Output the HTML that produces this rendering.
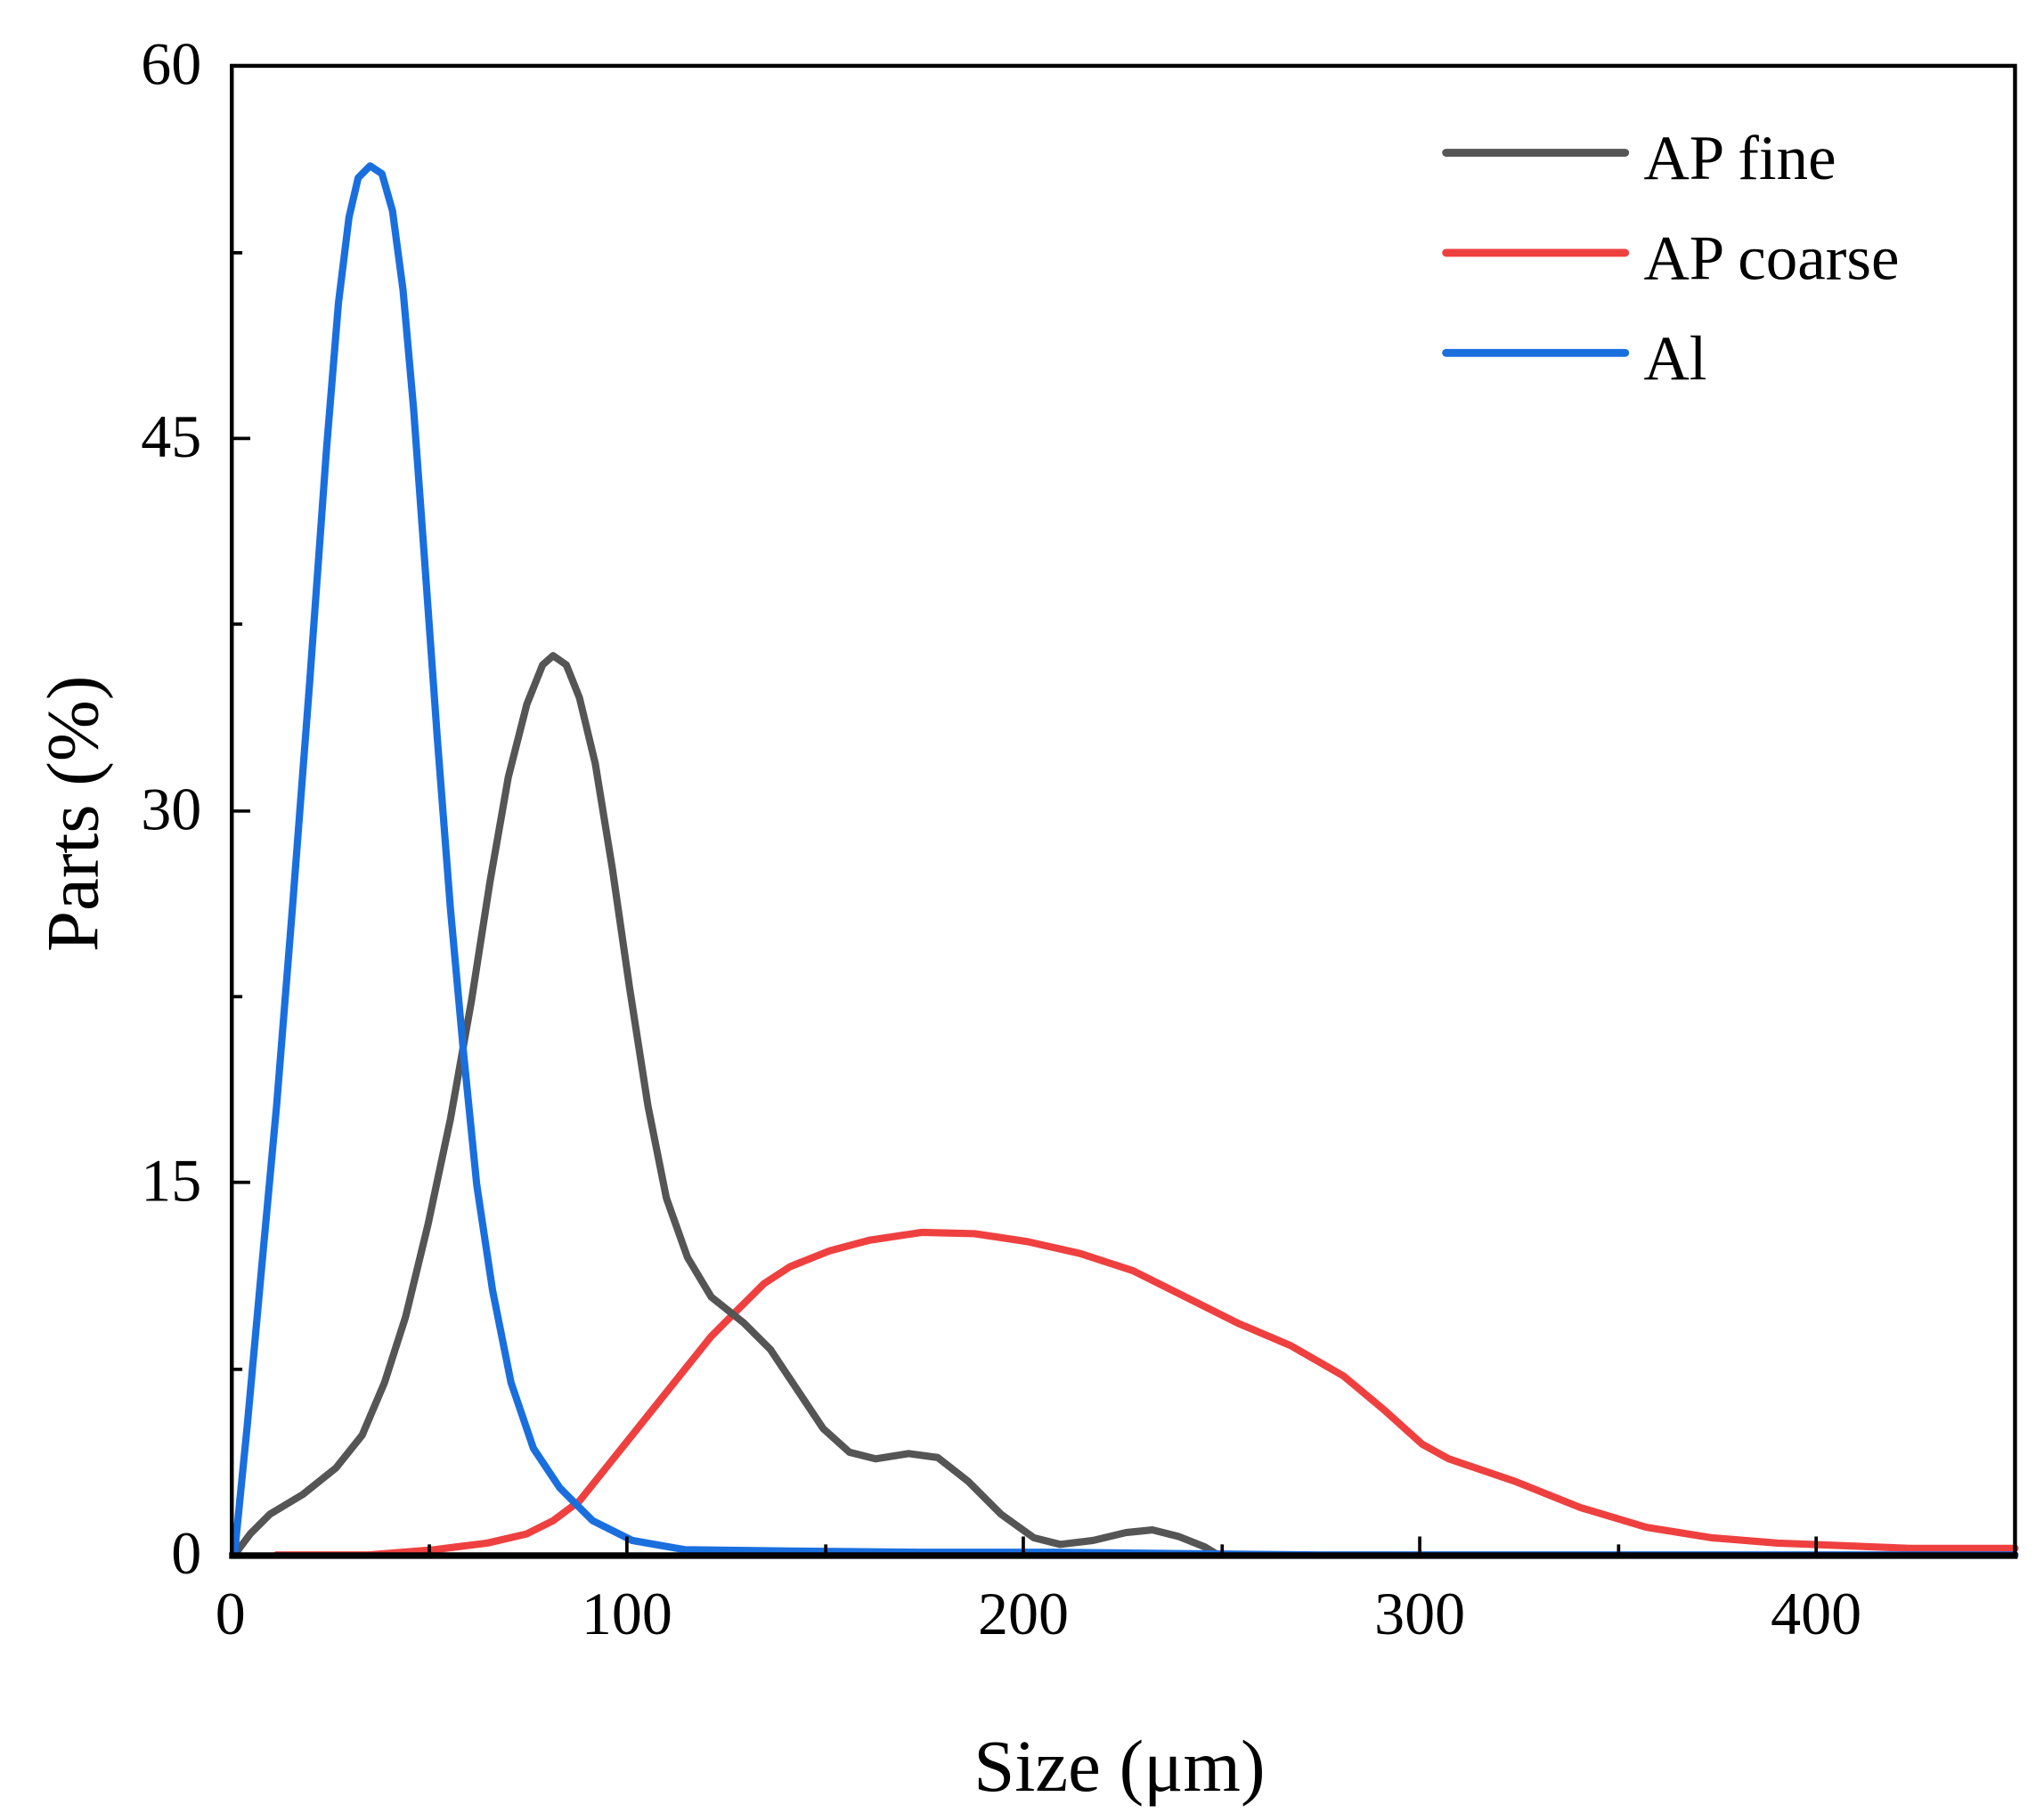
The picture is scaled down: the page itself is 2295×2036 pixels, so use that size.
<!DOCTYPE html>
<html><head><meta charset="utf-8"><style>html,body{margin:0;padding:0;background:#fff}svg{display:block}</style></head>
<body>
<svg width="2295" height="2036" viewBox="0 0 1552 1377" preserveAspectRatio="none" xmlns="http://www.w3.org/2000/svg" font-family="'Liberation Serif', serif">
<rect width="1552" height="1377" fill="#fff"/>
<g fill="none" stroke-linejoin="round" stroke-linecap="round" stroke-width="5.5">
<polyline stroke="#ef4040" points="210,1181 280,1181 330,1177 370,1172 400,1165 420,1155 440,1140 460,1115 480,1090 500,1065 520,1040 540,1015 560,995 580,975 600,962 630,950 660,942 700,936 740,937 780,943 820,952 860,965 900,985 940,1005 980,1022 1020,1045 1050,1070 1080,1097 1100,1108 1150,1125 1200,1145 1250,1160 1300,1168 1350,1172 1400,1174 1450,1176 1530,1176"/>
<polyline stroke="#555555" points="178,1181 190,1165 205,1150 230,1135 255,1115 275,1090 292,1050 308,1000 325,930 342,850 358,760 372,670 386,590 400,535 412,505 420,498 430,505 440,530 452,580 465,660 478,750 492,840 506,910 522,955 540,985 565,1005 585,1025 605,1055 625,1085 645,1103 665,1108 690,1104 712,1107 735,1125 760,1150 785,1168 805,1173 830,1170 855,1164 875,1162 895,1167 915,1175 925,1181"/>
<polyline stroke="#1a6fdf" points="178,1181 188,1080 198,970 210,840 222,690 235,520 248,340 257,230 265,165 272,135 281,126 290,132 298,160 306,220 314,310 322,420 332,560 342,690 352,800 362,900 374,980 388,1050 405,1100 425,1130 450,1155 480,1170 520,1177 600,1178 700,1179 800,1179 1000,1181 1530,1181"/>
</g>
<g stroke="#000" fill="none">
<rect x="176" y="50" width="1354" height="1131" stroke-width="3"/>
<line x1="174" y1="1181.5" x2="1532" y2="1181.5" stroke-width="5"/>
<g stroke-width="2.5">
<path d="M476,1181v-14M777,1181v-14M1078,1181v-14M1379,1181v-14M326,1181v-8M627,1181v-8M928,1181v-8M1229,1181v-8"/>
<path d="M176,898h14M176,616h14M176,333h14M176,1040h8M176,757h8M176,474h8M176,192h8"/>
</g>
</g>
<g font-size="46" fill="#000" text-anchor="end">
<text x="153" y="64">60</text>
<text x="153" y="347">45</text>
<text x="153" y="630">30</text>
<text x="153" y="912">15</text>
<text x="153" y="1195">0</text>
</g>
<g font-size="46" fill="#000" text-anchor="middle">
<text x="175" y="1241">0</text>
<text x="476" y="1241">100</text>
<text x="777" y="1241">200</text>
<text x="1078" y="1241">300</text>
<text x="1379" y="1241">400</text>
</g>
<text x="850" y="1360" font-size="56" text-anchor="middle">Size (μm)</text>
<text transform="translate(74,618) rotate(-90)" font-size="56" text-anchor="middle">Parts (%)</text>
<g stroke-width="6" stroke-linecap="round">
<line x1="1098" y1="116" x2="1234" y2="116" stroke="#555555"/>
<line x1="1098" y1="192" x2="1234" y2="192" stroke="#ef4040"/>
<line x1="1098" y1="268" x2="1234" y2="268" stroke="#1a6fdf"/>
</g>
<g font-size="48" fill="#000">
<text x="1248" y="136">AP fine</text>
<text x="1248" y="212">AP coarse</text>
<text x="1248" y="288">Al</text>
</g>
</svg>
</body></html>
